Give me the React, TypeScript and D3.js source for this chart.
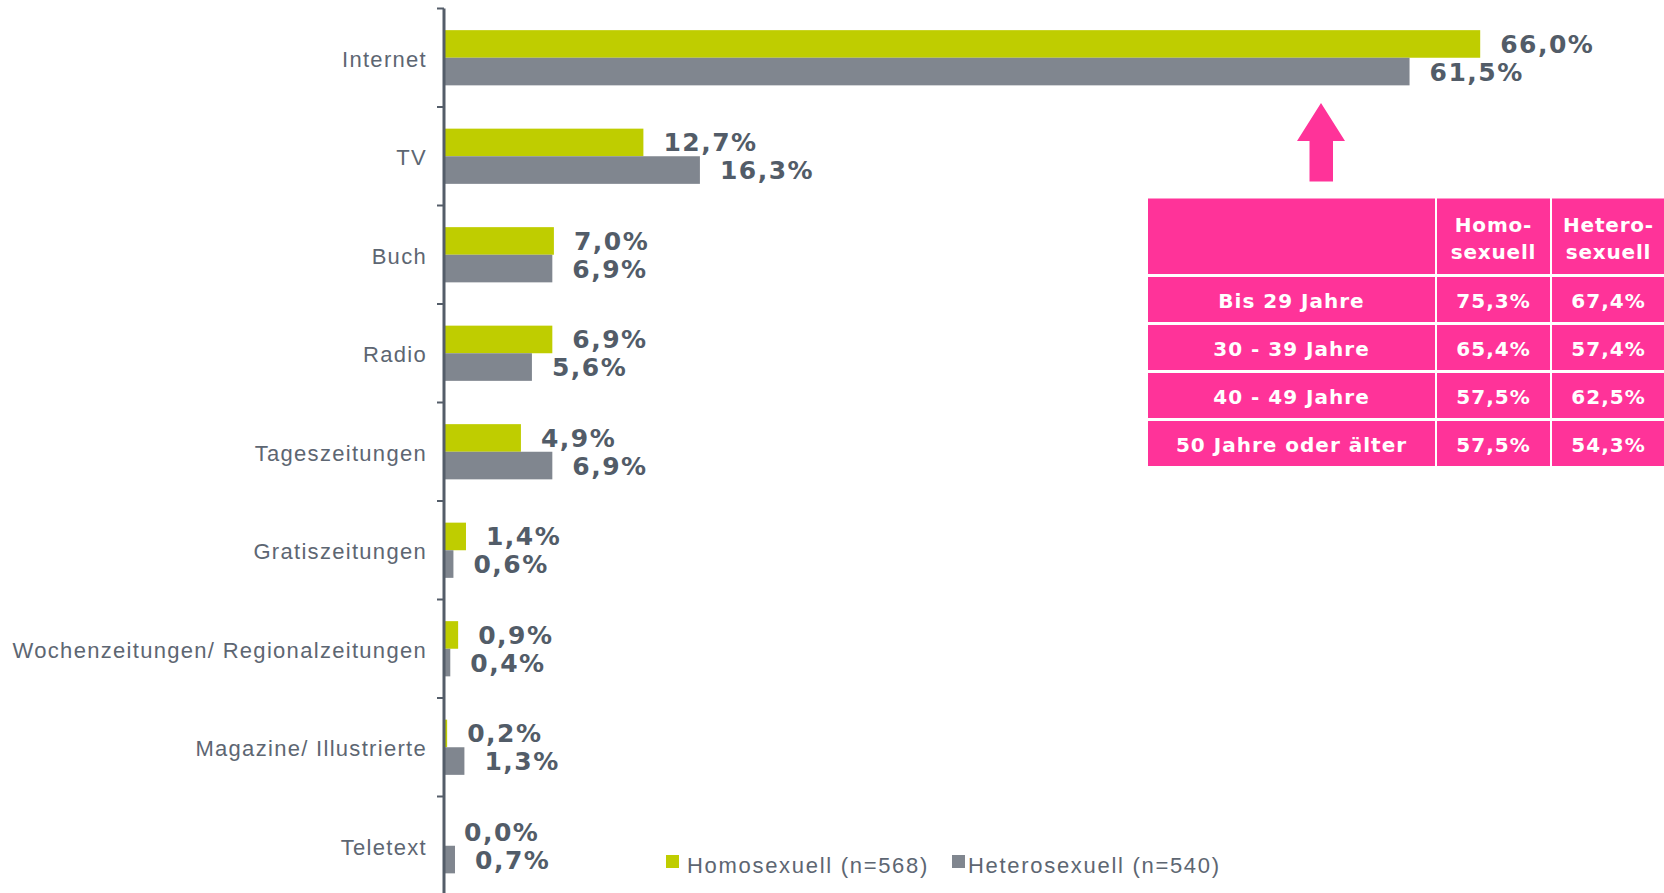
import React, { useEffect } from "react";
import * as d3 from "d3";

const categories = [
  "Internet",
  "TV",
  "Buch",
  "Radio",
  "Tageszeitungen",
  "Gratiszeitungen",
  "Wochenzeitungen/ Regionalzeitungen",
  "Magazine/ Illustrierte",
  "Teletext",
];
const homoValues = [66.0, 12.7, 7.0, 6.9, 4.9, 1.4, 0.9, 0.2, 0.0];
const heteroValues = [61.5, 16.3, 6.9, 5.6, 6.9, 0.6, 0.4, 1.3, 0.7];
const seriesNames = ["Homosexuell (n=568)", "Heterosexuell (n=540)"];

const ageGroups = ["Bis 29 Jahre", "30 - 39 Jahre", "40 - 49 Jahre", "50 Jahre oder älter"];
const ageHomo = ["75,3%", "65,4%", "57,5%", "57,5%"];
const ageHetero = ["67,4%", "57,4%", "62,5%", "54,3%"];
const tableHeader = [["Homo-", "sexuell"], ["Hetero-", "sexuell"]];

const theme = {
  green: "#bfcd00",
  gray: "#80868f",
  axis: "#545d69",
  label: "#525c68",
  catLabel: "#5d6672",
  pink: "#ff3399",
};

const W = 1664;
const H = 893;
const axisX = 444;

const fmt = (v: number) => v.toFixed(1).replace(".", ",") + "%";

export default function App() {
  useEffect(() => {
    document.body.style.margin = "0";
  }, []);

  const y = d3.scaleBand<string>().domain(categories).range([8.5, 8.5 + 98.5 * 9]);
  const x = d3.scaleLinear().domain([0, 100]).range([axisX, axisX + 1570]);
  const barH = 27.6;
  const inner = d3.scaleBand<number>().domain([0, 1]).range([0, barH * 2]);

  // table geometry
  const colX = [1148, 1437, 1552];
  const colW = [287, 113, 113];
  const headerY = 198.5;
  const headerH = 75.5;
  const rowH = 45;
  const rowGap = 3;

  return (
    <svg
      width={W}
      height={H}
      style={{ position: "fixed", left: 0, top: 0, background: "#fff" }}
    >
      {/* bars */}
      {categories.map((c, i) => {
        const top = y(c)! + (y.bandwidth() - barH * 2) / 2;
        const vals = [homoValues[i], heteroValues[i]];
        return (
          <g key={c}>
            {vals.map((v, j) => (
              <g key={j}>
                <rect
                  x={x(0)}
                  y={top + inner(j)!}
                  width={x(v) - x(0)}
                  height={barH}
                  fill={j === 0 ? theme.green : theme.gray}
                />
                <text
                  x={x(v) + 20}
                  y={top + inner(j)! + barH / 2 + 2}
                  dominantBaseline="middle"
                  fontFamily="DejaVu Sans, Verdana, sans-serif"
                  fontWeight="bold"
                  fontSize={25}
                  letterSpacing={1.5}
                  fill={theme.label}
                >
                  {fmt(v)}
                </text>
              </g>
            ))}
            <text
              x={axisX - 17}
              y={y(c)! + y.bandwidth() / 2 + 3}
              textAnchor="end"
              dominantBaseline="middle"
              fontFamily="Liberation Sans, Arial, sans-serif"
              fontSize={22}
              letterSpacing={1.3}
              fill={theme.catLabel}
            >
              {c}
            </text>
          </g>
        );
      })}

      {/* axis */}
      <line x1={axisX} x2={axisX} y1={8.5} y2={H} stroke={theme.axis} strokeWidth={3} />
      {categories.map((c) => (
        <line
          key={"t" + c}
          x1={axisX - 7}
          x2={axisX}
          y1={y(c)!}
          y2={y(c)!}
          stroke={theme.axis}
          strokeWidth={2}
        />
      ))}

      {/* legend */}
      {seriesNames.map((s, i) => {
        const lx = [666, 952][i];
        const tx = [687, 968][i];
        return (
          <g key={s}>
            <rect x={lx} y={855} width={13} height={13} fill={i === 0 ? theme.green : theme.gray} />
            <text
              x={tx}
              y={873}
              fontFamily="Liberation Sans, Arial, sans-serif"
              fontSize={22}
              letterSpacing={1.7}
              fill={theme.catLabel}
            >
              {s}
            </text>
          </g>
        );
      })}

      {/* arrow */}
      <path
        d="M1321,103 L1345,141 L1333,141 L1333,181.5 L1309.5,181.5 L1309.5,141 L1297,141 Z"
        fill={theme.pink}
      />

      {/* table */}
      <g fontFamily="DejaVu Sans, Verdana, sans-serif" fontWeight="bold" fill="#fff" fontSize={20}>
        {colX.map((cx, k) => (
          <rect key={"h" + k} x={cx} y={headerY} width={colW[k]} height={headerH} fill={theme.pink} />
        ))}
        {tableHeader.map((lines, k) => (
          <g key={"hl" + k}>
            {lines.map((l, m) => (
              <text
                key={m}
                x={colX[k + 1] + colW[k + 1] / 2}
                y={headerY + 28 + m * 27}
                textAnchor="middle"
                dominantBaseline="middle"
                fill="#fff"
                letterSpacing={0.8}
              >
                {l}
              </text>
            ))}
          </g>
        ))}
        {ageGroups.map((a, r) => {
          const ry = headerY + headerH + rowGap + r * (rowH + rowGap);
          const cells = [a, ageHomo[r], ageHetero[r]];
          return (
            <g key={a}>
              {cells.map((t, k) => (
                <g key={k}>
                  <rect x={colX[k]} y={ry} width={colW[k]} height={rowH} fill={theme.pink} />
                  <text
                    x={colX[k] + colW[k] / 2}
                    y={ry + rowH / 2 + 3}
                    textAnchor="middle"
                    dominantBaseline="middle"
                    fill="#fff"
                    letterSpacing={1}
                  >
                    {t}
                  </text>
                </g>
              ))}
            </g>
          );
        })}
      </g>
    </svg>
  );
}
